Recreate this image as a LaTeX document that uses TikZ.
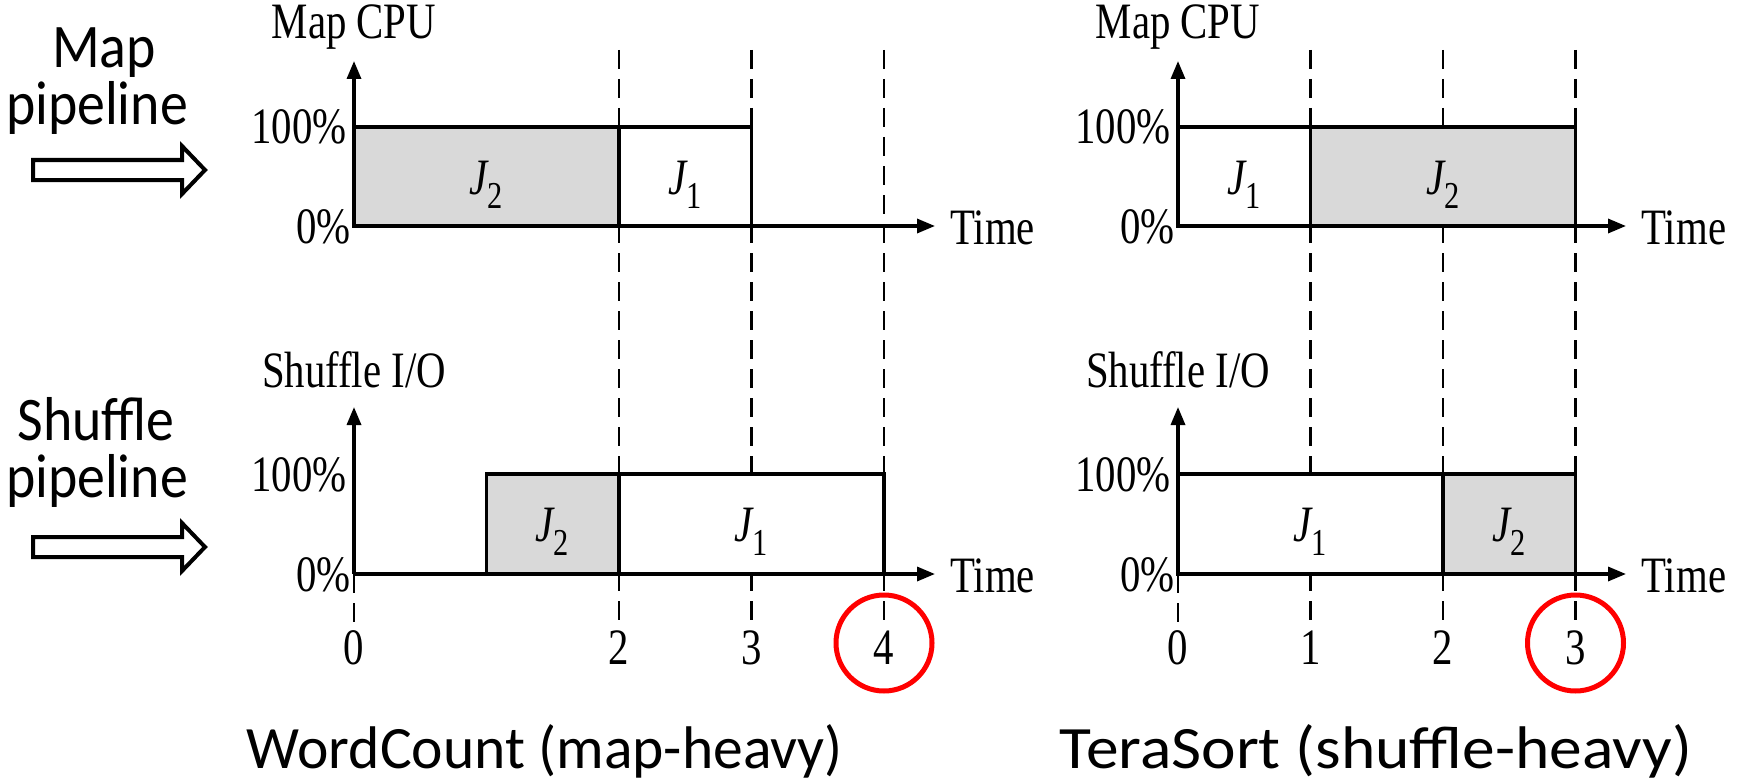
\documentclass[tikz,border=0pt]{standalone}
\usepackage{fontspec}
\setmainfont[FakeStretch=0.8]{Liberation Serif}
\newfontfamily\comic[FakeStretch=0.9]{Carlito}
\newfontfamily\comictitle{Carlito}
\usetikzlibrary{arrows.meta}
\definecolor{boxgray}{RGB}{217,217,217}
\begin{document}
\begin{tikzpicture}[x=0.5pt,y=-0.5pt,
  axis/.style={line width=1.65pt,-{Triangle[length=9pt,width=7pt]}},
  bar/.style={draw,line width=1.65pt},
  jobA/.style={bar,fill=white},
  jobB/.style={bar,fill=boxgray},
  guide/.style={line width=1.25pt,dash pattern=on 9.5pt off 5pt},
  lbl/.style={font=\fontsize{25.5}{28}\selectfont,inner sep=0pt},
  hand/.style={font=\comic\fontsize{31}{33}\selectfont,inner sep=0pt,anchor=base},
  titletext/.style={font=\comictitle\fontsize{30}{32}\selectfont,inner sep=0pt,anchor=base},
  pipe/.style={draw,line width=2pt,fill=white},
  hl/.style={draw=red,line width=2.5pt}
]
\useasboundingbox (0,0) rectangle (1740,781);
\newcommand{\jlab}[1]{{\itshape J}\raisebox{-0.28em}{\fontsize{19}{20}\selectfont #1}}

% ---------- left side pipeline labels ----------
\node[hand] (mapw) at (104,68) {Map};
\node[hand] (mappipe) at (97,125) {pipeline};
\draw[pipe] (33,160) -- (182,160) -- (182,146) -- (205,170) -- (182,194) -- (182,180) -- (33,180) -- cycle;
\node[hand] (shufw) at (96,440) {Shuffle};
\node[hand] (shufpipe) at (97,497) {pipeline};
\draw[pipe] (33,537) -- (182,537) -- (182,523) -- (205,547) -- (182,571) -- (182,557) -- (33,557) -- cycle;

% ---------- WordCount (left) ----------
\draw[guide] (619,50) -- (619,624);
\draw[guide] (751.5,50) -- (751.5,624);
\draw[guide] (884,50) -- (884,624);
\draw[guide] (354,574) -- (354,624);
% top chart
\draw[jobB] (354,127) rectangle (619,226);
\draw[jobA] (619,127) rectangle (751.5,226);
\draw[axis] (354,226) -- (354,61);
\draw[axis] (354,226) -- (935,226);
\node[lbl,anchor=base] (lcpu) at (354,39) {Map CPU};
\node[lbl,anchor=base east] (l100a) at (347,144) {100\%};
\node[lbl,anchor=base east] (l0a) at (351,243) {0\%};
\node[lbl,anchor=base west] (ltimea) at (950,244) {Time};
\node[lbl,anchor=base] (lj2a) at (486.5,194) {\jlab{2}};
\node[lbl,anchor=base] (lj1a) at (685,194) {\jlab{1}};
% bottom chart
\draw[jobB] (486.5,474) rectangle (619,574);
\draw[jobA] (619,474) rectangle (884,574);
\draw[axis] (354,574) -- (354,407);
\draw[axis] (354,574) -- (935,574);
\node[lbl,anchor=base] (lshuf) at (354,387) {Shuffle I/O};
\node[lbl,anchor=base east] (l100b) at (347,491) {100\%};
\node[lbl,anchor=base east] (l0b) at (351,591) {0\%};
\node[lbl,anchor=base west] (ltimeb) at (950,592) {Time};
\node[lbl,anchor=base] (lj2b) at (552,541) {\jlab{2}};
\node[lbl,anchor=base] (lj1b) at (751.5,541) {\jlab{1}};
% ticks
\node[lbl,anchor=base] (lt0) at (354,664) {0};
\node[lbl,anchor=base] (lt2) at (619,664) {2};
\node[lbl,anchor=base] (lt3) at (751.5,664) {3};
\node[lbl,anchor=base] (lt4) at (884,664) {4};
\draw[hl] (884,643) circle[radius=48];
\node[titletext] (ltitle) at (545,768) {\resizebox{298pt}{22pt}{WordCount (map-heavy)}};

% ---------- TeraSort (right) ----------
\draw[guide] (1310.5,50) -- (1310.5,624);
\draw[guide] (1443,50) -- (1443,624);
\draw[guide] (1575.5,50) -- (1575.5,624);
\draw[guide] (1178,574) -- (1178,624);
% top chart
\draw[jobA] (1178,127) rectangle (1310.5,226);
\draw[jobB] (1310.5,127) rectangle (1575.5,226);
\draw[axis] (1178,226) -- (1178,61);
\draw[axis] (1178,226) -- (1626,226);
\node[lbl,anchor=base] (rcpu) at (1178,39) {Map CPU};
\node[lbl,anchor=base east] (r100a) at (1171,144) {100\%};
\node[lbl,anchor=base east] (r0a) at (1175,243) {0\%};
\node[lbl,anchor=base west] (rtimea) at (1641,244) {Time};
\node[lbl,anchor=base] (rj1a) at (1244,194) {\jlab{1}};
\node[lbl,anchor=base] (rj2a) at (1443,194) {\jlab{2}};
% bottom chart
\draw[jobA] (1178,474) rectangle (1443,574);
\draw[jobB] (1443,474) rectangle (1575.5,574);
\draw[axis] (1178,574) -- (1178,407);
\draw[axis] (1178,574) -- (1626,574);
\node[lbl,anchor=base] (rshuf) at (1178,387) {Shuffle I/O};
\node[lbl,anchor=base east] (r100b) at (1171,491) {100\%};
\node[lbl,anchor=base east] (r0b) at (1175,591) {0\%};
\node[lbl,anchor=base west] (rtimeb) at (1641,592) {Time};
\node[lbl,anchor=base] (rj1b) at (1310.5,541) {\jlab{1}};
\node[lbl,anchor=base] (rj2b) at (1509,541) {\jlab{2}};
% ticks
\node[lbl,anchor=base] (rt0) at (1178,664) {0};
\node[lbl,anchor=base] (rt1) at (1310.5,664) {1};
\node[lbl,anchor=base] (rt2) at (1443,664) {2};
\node[lbl,anchor=base] (rt3) at (1575.5,664) {3};
\draw[hl] (1575.5,643) circle[radius=48];
\node[titletext] (rtitle) at (1376,768) {\resizebox{316pt}{22pt}{TeraSort (shuffle-heavy)}};
\end{tikzpicture}
\end{document}
